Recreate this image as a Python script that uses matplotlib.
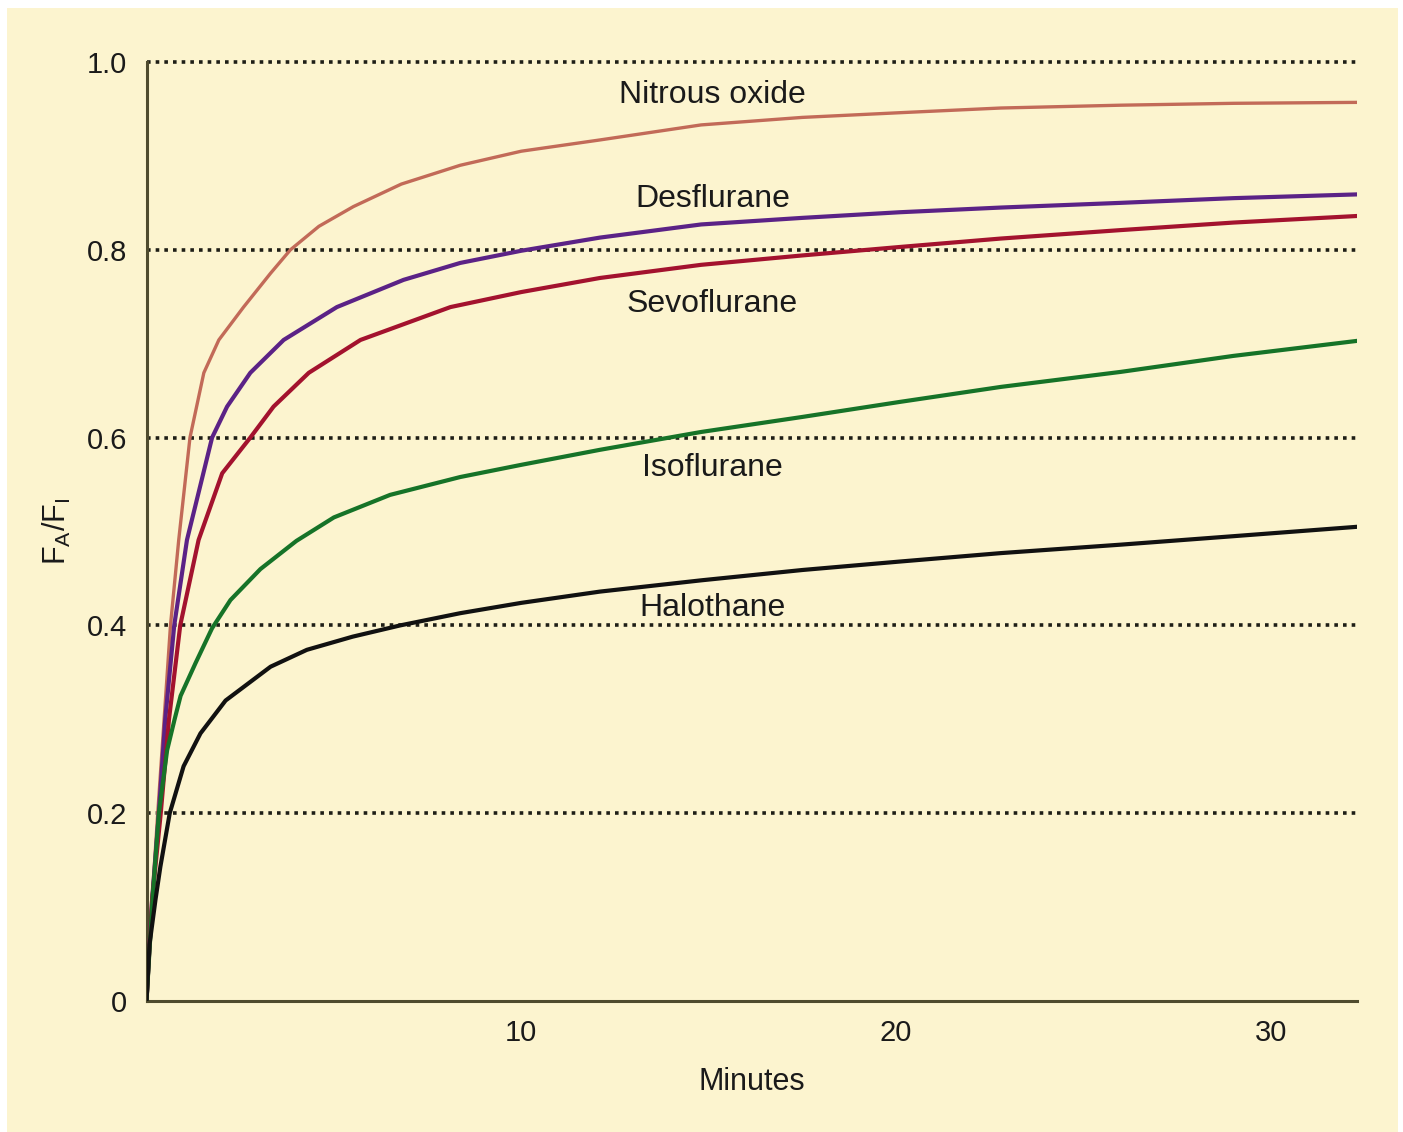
import matplotlib.pyplot as plt
from matplotlib.patches import Rectangle

# ------------------------------------------------------------
# Datos (minutos, FA/FI)
# ------------------------------------------------------------
t_n2o = [0, 0.15, 0.3, 0.47, 0.64, 0.86, 1.16, 1.53, 1.93, 2.59, 3.31, 3.84, 4.6, 5.52, 6.8, 8.37, 10.0, 12.1, 14.8, 17.5, 20.1, 22.8, 26, 29, 32.3]
v_n2o = [0, 0.108, 0.2, 0.3, 0.4, 0.491, 0.6, 0.669, 0.704, 0.739, 0.775, 0.8, 0.825, 0.846, 0.870, 0.890, 0.905, 0.917, 0.933, 0.941, 0.946, 0.951, 0.954, 0.956, 0.957]

t_des = [0, 0.15, 0.33, 0.5, 0.74, 1.08, 1.75, 2.15, 2.77, 3.66, 5.08, 6.86, 8.37, 10, 12.1, 14.8, 17.5, 20.1, 22.8, 26, 29, 32.3]
v_des = [0, 0.108, 0.2, 0.3, 0.4, 0.491, 0.6, 0.633, 0.669, 0.704, 0.739, 0.768, 0.786, 0.799, 0.813, 0.827, 0.834, 0.840, 0.845, 0.850, 0.855, 0.859]

t_sev = [0, 0.15, 0.38, 0.6, 0.9, 1.39, 2.02, 2.77, 3.39, 4.33, 5.71, 8.11, 10, 12.1, 14.8, 17.5, 20.1, 22.8, 26, 29, 32.3]
v_sev = [0, 0.108, 0.2, 0.3, 0.4, 0.491, 0.562, 0.6, 0.633, 0.669, 0.704, 0.739, 0.755, 0.770, 0.784, 0.794, 0.803, 0.812, 0.821, 0.829, 0.836]

t_iso = [0, 0.16, 0.33, 0.55, 0.75, 0.91, 1.31, 1.75, 2.24, 3.04, 4.0, 5.0, 6.5, 8.37, 10, 12.1, 14.8, 17.5, 20.1, 22.8, 26, 29, 32.3]
v_iso = [0, 0.108, 0.2, 0.267, 0.3, 0.325, 0.36, 0.397, 0.427, 0.46, 0.49, 0.515, 0.539, 0.558, 0.571, 0.587, 0.606, 0.622, 0.638, 0.654, 0.670, 0.687, 0.703]

t_hal = [0, 0.08, 0.24, 0.37, 0.62, 0.99, 1.44, 2.11, 3.31, 4.28, 5.5, 6.77, 8.37, 10, 12.1, 14.8, 17.5, 20.1, 22.8, 26, 29, 32.3]
v_hal = [0, 0.06, 0.108, 0.143, 0.2, 0.25, 0.285, 0.32, 0.356, 0.374, 0.388, 0.4, 0.413, 0.424, 0.436, 0.448, 0.459, 0.468, 0.477, 0.486, 0.495, 0.505]

nombres = ["Nitrous oxide", "Desflurane", "Sevoflurane", "Isoflurane", "Halothane"]
pos_etiquetas = [0.965, 0.854, 0.742, 0.568, 0.419]

y_ticks = [0, 0.2, 0.4, 0.6, 0.8, 1.0]
y_labels = ["0", "0.2", "0.4", "0.6", "0.8", "1.0"]
x_ticks = [10, 20, 30]

# ------------------------------------------------------------
# Figura
# ------------------------------------------------------------
plt.rcParams['font.family'] = ['Liberation Sans', 'DejaVu Sans']
fondo = '#fcf4cf'

fig = plt.figure(figsize=(14.03, 11.32), dpi=100, facecolor='white')
fig.add_artist(Rectangle((7 / 1403, 0), 1391 / 1403, 1124 / 1132,
                         transform=fig.transFigure, facecolor=fondo,
                         edgecolor='none', zorder=-10))

ax = fig.add_axes([146.5 / 1403, 131 / 1132, 1210.5 / 1403, 939 / 1132])
ax.set_zorder(1)
ax.set_facecolor(fondo)
ax.set_xlim(0, 32.3)
ax.set_ylim(0, 1.0)

# lineas punteadas horizontales
for y in y_ticks[1:]:
    ax.plot([0, 32.3], [y, y], color='#1e1e16', lw=2.6,
            linestyle=(0, (1, 1.4)), dash_capstyle='butt', zorder=1, clip_on=False)

ax.plot(t_n2o, v_n2o, color='#c26a58', lw=2.4, zorder=3)
ax.plot(t_des, v_des, color='#5b2286', lw=3.0, zorder=3)
ax.plot(t_sev, v_sev, color='#a3122e', lw=3.0, zorder=3)
ax.plot(t_iso, v_iso, color='#167328', lw=3.0, zorder=3)
ax.plot(t_hal, v_hal, color='#111111', lw=3.0, zorder=3)

for nombre, yy in zip(nombres, pos_etiquetas):
    ax.text(15.1, yy, nombre, ha='center', va='center', fontsize=23, color='#1a1a1a')

for lado in ['top', 'right']:
    ax.spines[lado].set_visible(False)
for lado in ['left', 'bottom']:
    ax.spines[lado].set_color('#4f4b2e')
    ax.spines[lado].set_linewidth(2.2)

ax.set_yticks(y_ticks)
ax.set_yticklabels(y_labels)
ax.set_xticks(x_ticks)
ax.tick_params(axis='both', length=0, labelsize=21, colors='#1a1a1a')
ax.tick_params(axis='y', pad=14)
ax.tick_params(axis='x', pad=13)

ax.set_xlabel('Minutes', fontsize=22, color='#1a1a1a', labelpad=14)
ax.set_ylabel(r'F$_\mathregular{A}$/F$_\mathregular{I}$', fontsize=22, color='#1a1a1a', labelpad=10)

fig.savefig('out.png', dpi=100, facecolor='white')
